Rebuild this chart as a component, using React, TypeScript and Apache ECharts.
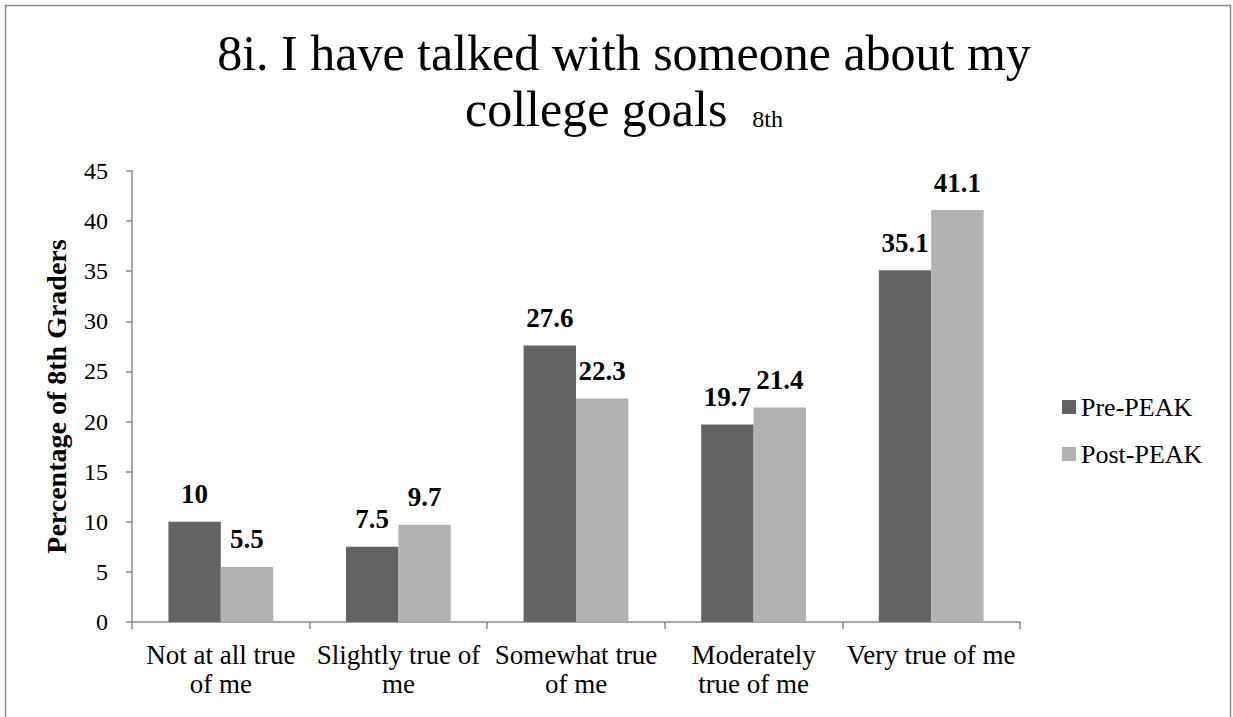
import React, { useEffect, useRef } from "react";
import * as echarts from "echarts";

const categories = [
  "Not at all true\nof me",
  "Slightly true of\nme",
  "Somewhat true\nof me",
  "Moderately\ntrue of me",
  "Very true of me",
];
const prePeak = [10, 7.5, 27.6, 19.7, 35.1];
const postPeak = [5.5, 9.7, 22.3, 21.4, 41.1];
const seriesNames = ["Pre-PEAK", "Post-PEAK"];

const FONT = "Liberation Serif";

export default function App() {
  const ref = useRef<HTMLDivElement>(null);
  useEffect(() => {
    document.body.style.margin = "0";
    const chart = echarts.init(ref.current!, null, { renderer: "svg" });
    const valueLabel = {
      show: true,
      position: "top",
      distance: 14,
      fontFamily: FONT,
      fontSize: 27,
      fontWeight: "bold",
      color: "#000",
    };
    chart.setOption({
      animation: false,
      backgroundColor: "#ffffff",
      textStyle: { fontFamily: FONT, color: "#000" },
      title: {
        text: "8i. I have talked with someone about my\ncollege goals  {s|8th}",
        left: 619,
        textAlign: "center",
        top: 20,
        textStyle: {
          fontFamily: FONT,
          fontSize: 50,
          fontWeight: "normal",
          color: "#000",
          lineHeight: 56,
          rich: {
            s: { fontSize: 24, fontFamily: FONT, color: "#000", verticalAlign: "bottom", padding: [0, 0, 6, 0] },
          },
        },
      },
      graphic: [
        {
          type: "rect",
          shape: { x: 5.5, y: 5.5, width: 1225, height: 730 },
          style: { fill: "none", stroke: "#8a8a8a", lineWidth: 1.5 },
          silent: true,
        },
      ],
      legend: {
        orient: "vertical",
        left: 1062,
        top: 394,
        padding: 0,
        itemWidth: 14,
        itemHeight: 14,
        itemGap: 21,
        icon: "rect",
        textStyle: { fontFamily: FONT, fontSize: 26, color: "#000" },
        data: seriesNames,
      },
      grid: { left: 132, right: 213, top: 171, bottom: 95, containLabel: false },
      xAxis: {
        type: "category",
        data: categories,
        axisLine: { lineStyle: { color: "#8a8a8a", width: 1.5 } },
        axisTick: { show: true, length: 7, alignWithLabel: false, lineStyle: { color: "#8a8a8a", width: 1.5 } },
        axisLabel: { fontFamily: FONT, fontSize: 27, color: "#000", interval: 0, lineHeight: 29, margin: 18 },
      },
      yAxis: {
        type: "value",
        min: 0,
        max: 45,
        interval: 5,
        name: "Percentage of 8th Graders",
        nameLocation: "middle",
        nameGap: 62,
        nameRotate: 90,
        nameTextStyle: { fontFamily: FONT, fontSize: 28, fontWeight: "bold", color: "#000" },
        axisLine: { show: true, lineStyle: { color: "#8a8a8a", width: 1.5 } },
        axisTick: { show: true, length: 6, lineStyle: { color: "#8a8a8a", width: 1.5 } },
        splitLine: { show: false },
        axisLabel: { fontFamily: FONT, fontSize: 24, color: "#000", margin: 24 },
      },
      series: [
        {
          name: seriesNames[0],
          type: "bar",
          data: prePeak,
          barGap: "0%",
          barCategoryGap: "41%",
          itemStyle: { color: "#636363" },
          label: valueLabel,
        },
        {
          name: seriesNames[1],
          type: "bar",
          data: postPeak,
          barGap: "0%",
          barCategoryGap: "41%",
          itemStyle: { color: "#b2b2b2" },
          label: valueLabel,
        },
      ],
    });
    return () => chart.dispose();
  }, []);
  return <div ref={ref} style={{ position: "absolute", left: 0, top: 0, width: 1233, height: 717 }} />;
}
